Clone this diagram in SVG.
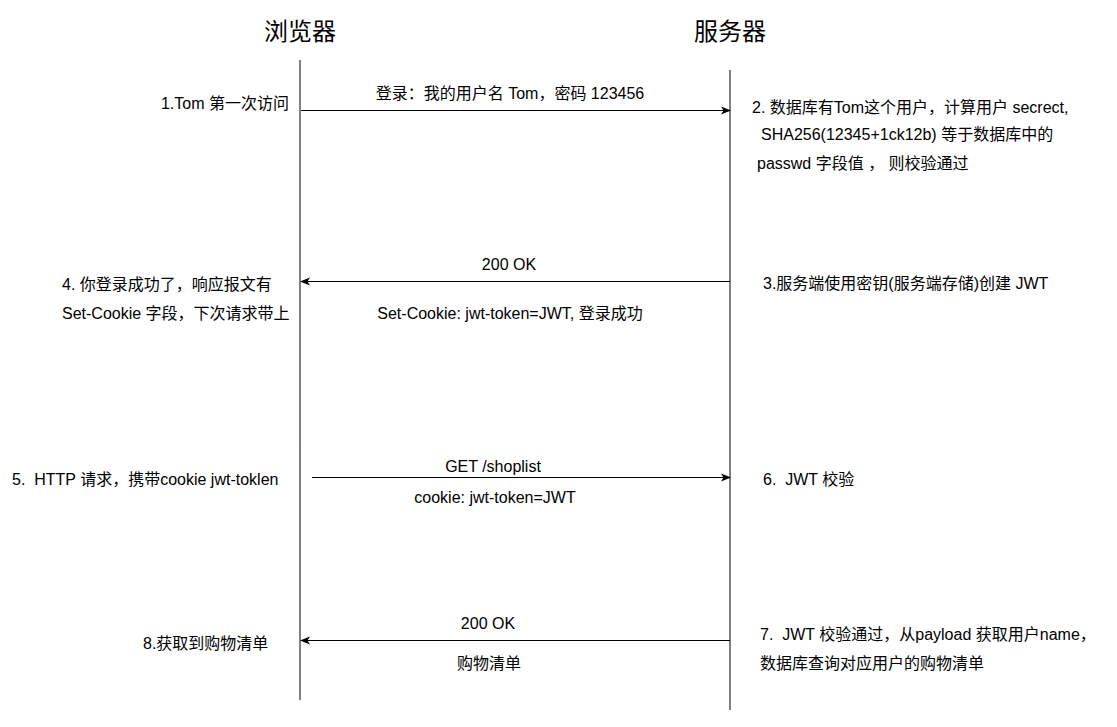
<svg xmlns="http://www.w3.org/2000/svg" width="1117" height="727" viewBox="0 0 1117 727">
<style>
text{font-family:"Liberation Sans","Noto Sans CJK SC",sans-serif;font-size:16px;fill:#000;white-space:pre}
.title{font-size:24px}
.mid{text-anchor:middle}
.end{text-anchor:end}
.life{stroke:#808080;stroke-width:2;fill:none}
.lifeb{stroke:#000;stroke-width:1;fill:none}
.msg{stroke:#000;stroke-width:1;fill:none}
</style>
<defs>
<marker id="arr" viewBox="0 0 10 10" refX="9" refY="5" markerWidth="10" markerHeight="10" markerUnits="userSpaceOnUse" orient="auto">
<path d="M0,1 L10,5 L0,9 L2.5,5 Z" fill="#000"/>
</marker>
</defs>
<rect width="1117" height="727" fill="#fff"/>
<g id="browser">
<text class="title mid" x="300" y="40">浏览器</text>
<line class="life" x1="300" y1="60" x2="300" y2="450"/>
<line class="lifeb" x1="300" y1="450" x2="300" y2="700"/>
</g>
<g id="server">
<text class="title mid" x="730" y="40">服务器</text>
<line class="life" x1="730" y1="70" x2="730" y2="450"/>
<line class="lifeb" x1="730" y1="450" x2="730" y2="710"/>
</g>
<g id="connectors">
<line class="msg" x1="301" y1="110.5" x2="730" y2="110.5" marker-end="url(#arr)"/>
<line class="msg" x1="730" y1="281.5" x2="301" y2="281.5" marker-end="url(#arr)"/>
<line class="msg" x1="312" y1="477.5" x2="730" y2="477.5" marker-end="url(#arr)"/>
<line class="msg" x1="730" y1="640.5" x2="301" y2="640.5" marker-end="url(#arr)"/>
</g>
<g id="labels">
<text class="end" x="289" y="109">1.Tom 第一次访问</text>
<text class="mid" x="510" y="99">登录：我的用户名 Tom，密码 123456</text>
<text x="752" y="113">2. 数据库有Tom这个用户，计算用户 secrect,</text>
<text x="761" y="140">SHA256(12345+1ck12b) 等于数据库中的</text>
<text x="757" y="169">passwd 字段值 ， 则校验通过</text>
<text class="mid" x="509" y="270">200 OK</text>
<text class="mid" x="510" y="319">Set-Cookie: jwt-token=JWT, 登录成功</text>
<text x="62" y="290">4. 你登录成功了，响应报文有</text>
<text x="62" y="319">Set-Cookie 字段，下次请求带上</text>
<text x="763" y="289">3.服务端使用密钥(服务端存储)创建 JWT</text>
<text x="12" y="485">5.  HTTP 请求，携带cookie jwt-toklen</text>
<text class="mid" x="493" y="472">GET /shoplist</text>
<text class="mid" x="495" y="503">cookie: jwt-token=JWT</text>
<text x="763" y="485">6.  JWT 校验</text>
<text class="mid" x="488" y="629">200 OK</text>
<text class="mid" x="489" y="669">购物清单</text>
<text x="143" y="649">8.获取到购物清单</text>
<text x="760" y="640">7.  JWT 校验通过，从payload 获取用户name，</text>
<text x="760" y="669">数据库查询对应用户的购物清单</text>
</g>
</svg>
